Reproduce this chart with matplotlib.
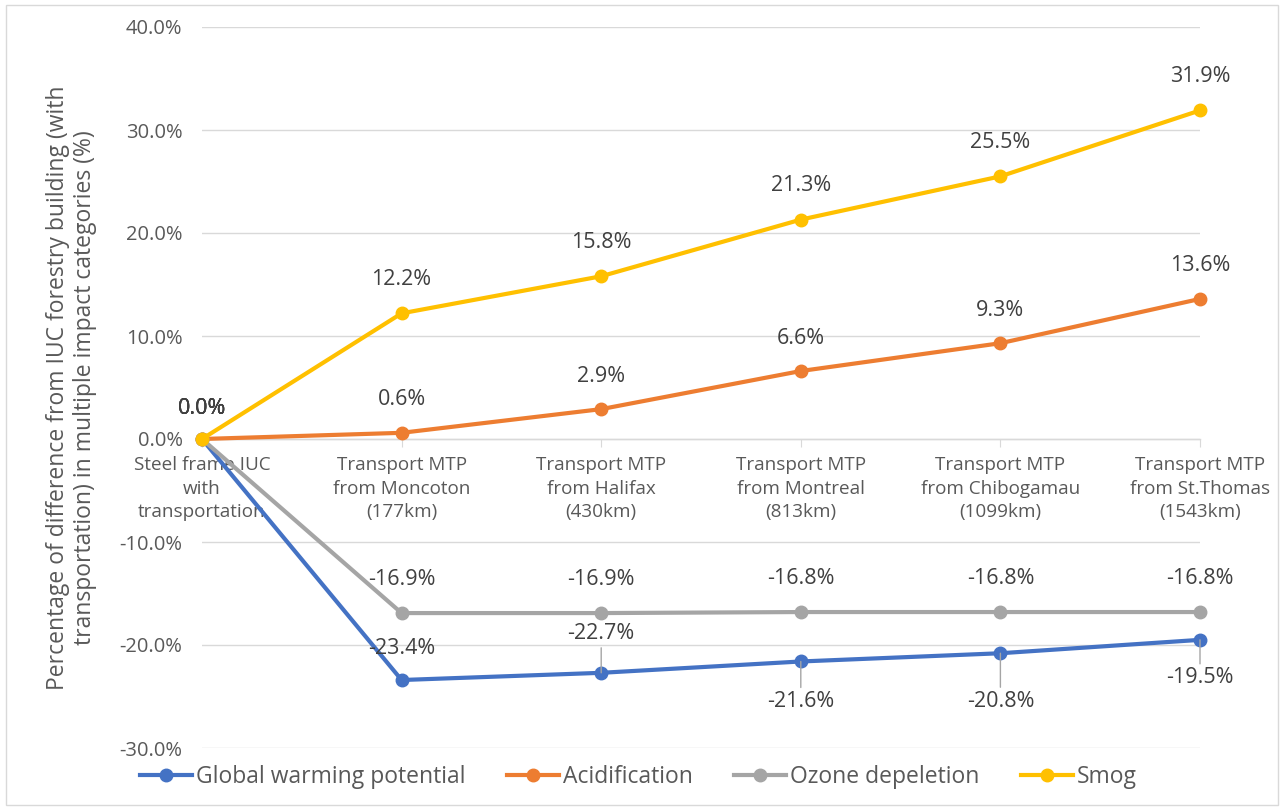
import matplotlib
matplotlib.use("Agg")
import matplotlib.pyplot as plt
from matplotlib.lines import Line2D
from matplotlib.patches import Rectangle

categories = ["Steel frame IUC\nwith\ntransportation",
              "Transport MTP\nfrom Moncoton\n(177km)",
              "Transport MTP\nfrom Halifax\n(430km)",
              "Transport MTP\nfrom Montreal\n(813km)",
              "Transport MTP\nfrom Chibogamau\n(1099km)",
              "Transport MTP\nfrom St.Thomas\n(1543km)"]
gwp = [0.0, -23.4, -22.7, -21.6, -20.8, -19.5]
acid = [0.0, 0.6, 2.9, 6.6, 9.3, 13.6]
ozone = [0.0, -16.9, -16.9, -16.8, -16.8, -16.8]
smog = [0.0, 12.2, 15.8, 21.3, 25.5, 31.9]
series_names = ["Global warming potential", "Acidification", "Ozone depeletion", "Smog"]
colors = ["#4472C4", "#ED7D31", "#A5A5A5", "#FFC000"]
yticks = [-30, -20, -10, 0, 10, 20, 30, 40]

plt.rcParams['font.family'] = ['Open Sans', 'DejaVu Sans']
fig = plt.figure(figsize=(12.84, 8.10), dpi=100)
ax = fig.add_axes([202/1284, 1-748/810, (1200-202)/1284, (748-27)/810])

x = list(range(len(categories)))
series = [gwp, acid, ozone, smog]
for vals, c, n in zip(series, colors, series_names):
    ax.plot(x, vals, color=c, lw=3.0, marker='o', ms=9, label=n, clip_on=False,
            solid_capstyle='round', zorder=3)

ax.set_xlim(0, 5)
ax.set_ylim(-30, 40)
ax.set_yticks(yticks)
ax.set_yticklabels([f"{v:.1f}%" for v in yticks])
ax.yaxis.grid(True, color="#D9D9D9", lw=1.0)
ax.set_axisbelow(True)
for s in ['left', 'right', 'top']:
    ax.spines[s].set_visible(False)
ax.spines['bottom'].set_position(('data', 0))
ax.spines['bottom'].set_color("#D9D9D9")
ax.spines['bottom'].set_linewidth(1.0)
ax.tick_params(axis='y', length=0, pad=14, labelsize=14.5, labelcolor="#595959")
ax.tick_params(axis='x', length=6, color="#D9D9D9", pad=6, labelsize=13.6, labelcolor="#595959")
ax.set_xticks(x)
ax.set_xticklabels(categories, linespacing=1.42)

ax.set_ylabel("Percentage of difference from IUC forestry building (with\ntransportation) in multiple impact categories (%)",
              fontsize=16.5, color="#595959", labelpad=16, linespacing=1.2)

lab_kw = dict(textcoords='offset pixels', ha='center', va='center', fontsize=15.5, color="#404040")
# First point labels (all series, overlapping)
for vals in series:
    ax.annotate(f"{vals[0]:.1f}%", (0, vals[0]), xytext=(0, 31), **lab_kw)
for i in range(1, 6):
    ax.annotate(f"{smog[i]:.1f}%", (i, smog[i]), xytext=(0, 34), **lab_kw)
    ax.annotate(f"{acid[i]:.1f}%", (i, acid[i]), xytext=(0, 33), **lab_kw)
    ax.annotate(f"{ozone[i]:.1f}%", (i, ozone[i]), xytext=(0, 34), **lab_kw)

gwp_off = {1: 32, 2: 39, 3: -40, 4: -48, 5: -38}
for i, off in gwp_off.items():
    ax.annotate(f"{gwp[i]:.1f}%", (i, gwp[i]), xytext=(0, off), **lab_kw)
    if abs(off) > 34:
        sgn = 1 if off > 0 else -1
        ax.annotate("", (i, gwp[i]), xytext=(0, off - sgn * 14), textcoords='offset pixels',
                    arrowprops=dict(arrowstyle='-', color="#A5A5A5", lw=1.0, shrinkA=0, shrinkB=0))

handles = [Line2D([0], [0], color=c, lw=3.0, marker='o', ms=9) for c in colors]
fig.legend(handles, series_names, loc='center', bbox_to_anchor=(0.497, 1-777/810), ncol=4,
           frameon=False, fontsize=16.5, handlelength=2.3, columnspacing=1.8, handletextpad=0.15,
           labelcolor="#595959")

fig.patches.append(Rectangle((6/1284, 5/810), 1-12/1284, 1-10/810, transform=fig.transFigure,
                             fill=False, edgecolor="#D9D9D9", lw=1.0))

fig.savefig("out.png", dpi=100)
